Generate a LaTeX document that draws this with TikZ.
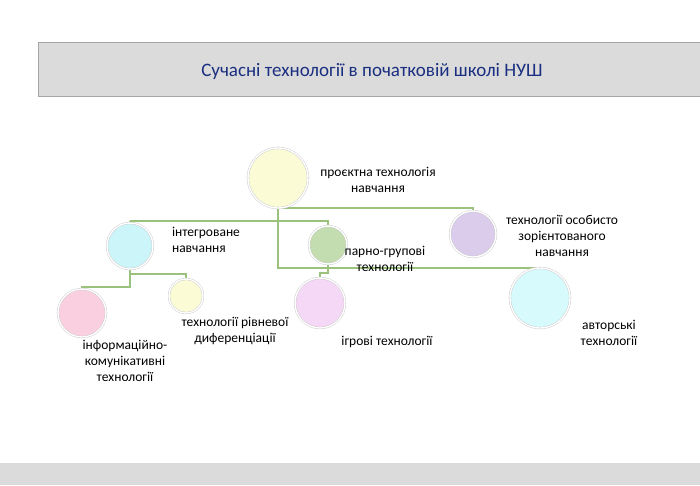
\documentclass[tikz,border=0pt]{standalone}
\usepackage{fontspec}
\setmainfont{Carlito}
\usetikzlibrary{positioning}
\definecolor{conn}{HTML}{9BC27A}
\definecolor{titleblue}{HTML}{1A2F80}
\tikzset{
  bubble/.style={circle, draw=black!22, double=white, double distance=1.4pt, line width=0.4pt, inner sep=0pt, minimum size=#1},
  lbl/.style={align=center, font=\fontsize{13.5}{16}\selectfont},
  link/.style={conn, line width=1.1pt}
}
\begin{document}
\begin{tikzpicture}[x=1pt,y=-1pt]
	\useasboundingbox (0,0) rectangle (700,485);
	\fill[white] (0,0) rectangle (700,485);
	% header and footer bars
	\draw[fill=black!14, draw=black!35] (38,42) rectangle (700,96);
	\node[font=\fontsize{19}{21}\selectfont, text=titleblue] (title) at (372,71) {Сучасні технології в початковій школі НУШ};
	\fill[black!14] (0,463) rectangle (700,485);
	% connectors first
	\coordinate (j1) at (278,268);
	\draw[link] (278,200) -- (j1) -- (540,268) -- (540,275);
	\draw[link] (130,221) -- (328,221) -- (328,232);
	\draw[link] (130,221) -- (130,230);
	\draw[link] (278,208) -- (473,208) -- (473,218);
	\draw[link] (130,262) -- (130,287) -- (82,287) -- (82,295);
	\draw[link] (130,274) -- (186,274) -- (186,285);
	\draw[link] (328,258) -- (328,273) -- (320,273) -- (320,285);
	% circles
	\node[bubble=60pt, fill={rgb,255:red,251;green,251;blue,214}] (root) at (278,178) {};
	\node[bubble=46pt, fill={rgb,255:red,204;green,245;blue,250}] (integr) at (130,246) {};
	\node[bubble=38pt, fill={rgb,255:red,195;green,221;blue,176}] (parno) at (328,245) {};
	\node[bubble=46pt, fill={rgb,255:red,220;green,204;blue,236}] (osob) at (473,234) {};
	\node[bubble=48pt, fill={rgb,255:red,250;green,208;blue,224}] (info) at (82,313) {};
	\node[bubble=34pt, fill={rgb,255:red,251;green,251;blue,214}] (rivn) at (186,296) {};
	\node[bubble=50pt, fill={rgb,255:red,245;green,216;blue,245}] (igrovi) at (320,303) {};
	\node[bubble=60pt, fill={rgb,255:red,215;green,250;blue,253}] (avtor) at (540,298) {};
	% labels
	\node[lbl] (troot) at (378,180) {проєктна технологія\\навчання};
	\node[lbl, align=left] (tintegr) at (206,240) {інтегроване\\навчання};
	\node[lbl] (tparno) at (385,259) {парно-групові\\технології};
	\node[lbl] (tosob) at (562,236) {технології особисто\\зорієнтованого\\навчання};
	\node[lbl] (tinfo) at (125,361) {інформаційно-\\комунікативні\\технології};
	\node[lbl] (trivn) at (235,331) {технології рівневої\\диференціації};
	\node[lbl] (tigrovi) at (387,342) {ігрові технології};
	\node[lbl] (tavtor) at (609,333) {авторські\\технології};
\end{tikzpicture}
\end{document}
